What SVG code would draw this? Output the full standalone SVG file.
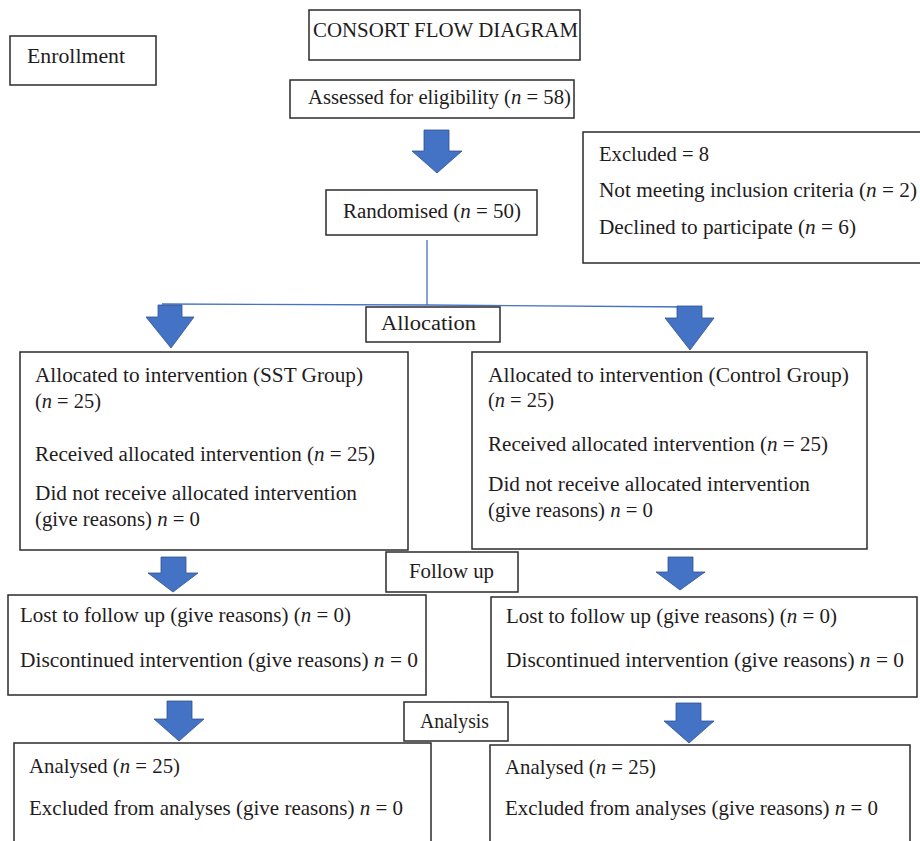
<svg xmlns="http://www.w3.org/2000/svg" width="920" height="841" viewBox="0 0 920 841">
<style>
.box{fill:#fff;stroke:#2b2b2b;stroke-width:1.5}
.t{font-family:"Liberation Serif","Times New Roman",serif;font-size:20px;fill:#1f1c1d}
.c{font-size:21px}
.i{font-style:italic}
.arr{fill:#4472C4;stroke:#2F528F;stroke-width:0.8}
.ln{stroke:#4472C4;stroke-width:1.3;fill:none}
</style>
<rect width="920" height="841" fill="#fff"/>
<g id="connectors">
<line class="ln" x1="427" y1="240" x2="427" y2="305"/>
<polyline class="ln" points="162,304 427,305 690,307"/>
<path class="arr" d="M424,130 H449 V151 H462 L437,173 L412,151 H424 Z"/>
<path class="arr" d="M158,305 H182 V317 H194 L171,348 L146,317 H158 Z"/>
<path class="arr" d="M677,306 H702 V318 H714 L690,350 L665,318 H677 Z"/>
<path class="arr" d="M161,557 H186 V573 H198 L173,592 L148,573 H161 Z"/>
<path class="arr" d="M668,557 H693 V572 H705 L680,590 L656,572 H668 Z"/>
<path class="arr" d="M167,701 H192 V719 H204 L179,741 L154,719 H167 Z"/>
<path class="arr" d="M676,703 H701 V721 H714 L689,743 L664,721 H676 Z"/>
</g>
<g id="enrollment">
<rect class="box" x="10" y="36" width="146" height="49"/>
<text class="t" x="27" y="63" textLength="98" lengthAdjust="spacingAndGlyphs">Enrollment</text>
</g>
<g id="title">
<rect class="box" x="309" y="10" width="271" height="50"/>
<text class="t" x="313" y="37" textLength="265" lengthAdjust="spacingAndGlyphs">CONSORT FLOW DIAGRAM</text>
</g>
<g id="assessed">
<rect class="box" x="290" y="80" width="284" height="38"/>
<text class="t" x="308" y="104" textLength="263" lengthAdjust="spacingAndGlyphs">Assessed for eligibility (<tspan class="i">n</tspan> = 58)</text>
</g>
<g id="randomised">
<rect class="box" x="326" y="190" width="211" height="45"/>
<text class="t" x="343" y="218" textLength="178" lengthAdjust="spacingAndGlyphs">Randomised (<tspan class="i">n</tspan> = 50)</text>
</g>
<g id="excluded">
<rect class="box" x="583" y="132" width="340" height="131"/>
<text class="t" x="599" y="161" textLength="110" lengthAdjust="spacingAndGlyphs">Excluded = 8</text>
<text class="t" x="599" y="197" textLength="318" lengthAdjust="spacingAndGlyphs">Not meeting inclusion criteria (<tspan class="i">n</tspan> = 2)</text>
<text class="t" x="599" y="234" textLength="257" lengthAdjust="spacingAndGlyphs">Declined to participate (<tspan class="i">n</tspan> = 6)</text>
</g>
<g id="allocation">
<rect class="box" x="366" y="307" width="134" height="35"/>
<text class="t" x="381" y="330" textLength="95" lengthAdjust="spacingAndGlyphs">Allocation</text>
</g>
<g id="alloc-sst">
<rect class="box" x="20" y="352" width="388" height="198"/>
<text class="t" x="35" y="382" textLength="328" lengthAdjust="spacingAndGlyphs">Allocated to intervention (SST Group)</text>
<text class="t" x="35" y="408" textLength="66" lengthAdjust="spacingAndGlyphs">(<tspan class="i">n</tspan> = 25)</text>
<text class="t" x="35" y="461" textLength="340" lengthAdjust="spacingAndGlyphs">Received allocated intervention (<tspan class="i">n</tspan> = 25)</text>
<text class="t" x="35" y="500" textLength="322" lengthAdjust="spacingAndGlyphs">Did not receive allocated intervention</text>
<text class="t" x="35" y="526" textLength="165" lengthAdjust="spacingAndGlyphs">(give reasons) <tspan class="i">n</tspan> = 0</text>
</g>
<g id="alloc-control">
<rect class="box" x="472" y="352" width="395" height="197"/>
<text class="t" x="488" y="382" textLength="361" lengthAdjust="spacingAndGlyphs">Allocated to intervention (Control Group)</text>
<text class="t" x="488" y="407" textLength="66" lengthAdjust="spacingAndGlyphs">(<tspan class="i">n</tspan> = 25)</text>
<text class="t" x="488" y="451" textLength="340" lengthAdjust="spacingAndGlyphs">Received allocated intervention (<tspan class="i">n</tspan> = 25)</text>
<text class="t" x="488" y="491" textLength="322" lengthAdjust="spacingAndGlyphs">Did not receive allocated intervention</text>
<text class="t" x="488" y="517" textLength="165" lengthAdjust="spacingAndGlyphs">(give reasons) <tspan class="i">n</tspan> = 0</text>
</g>
<g id="followup">
<rect class="box" x="386" y="552" width="132" height="40"/>
<text class="t c" x="409" y="578" textLength="85" lengthAdjust="spacingAndGlyphs">Follow up</text>
</g>
<g id="follow-sst">
<rect class="box" x="8" y="595" width="418" height="100"/>
<text class="t c" x="20" y="622" textLength="331" lengthAdjust="spacingAndGlyphs">Lost to follow up (give reasons) (<tspan class="i">n</tspan> = 0)</text>
<text class="t c" x="20" y="667" textLength="398" lengthAdjust="spacingAndGlyphs">Discontinued intervention (give reasons) <tspan class="i">n</tspan> = 0</text>
</g>
<g id="follow-control">
<rect class="box" x="491" y="597" width="426" height="100"/>
<text class="t c" x="506" y="623" textLength="331" lengthAdjust="spacingAndGlyphs">Lost to follow up (give reasons) (<tspan class="i">n</tspan> = 0)</text>
<text class="t c" x="506" y="667" textLength="398" lengthAdjust="spacingAndGlyphs">Discontinued intervention (give reasons) <tspan class="i">n</tspan> = 0</text>
</g>
<g id="analysis">
<rect class="box" x="404" y="702" width="104" height="39"/>
<text class="t c" x="420" y="728" textLength="69" lengthAdjust="spacingAndGlyphs">Analysis</text>
</g>
<g id="analysis-sst">
<rect class="box" x="14" y="743" width="417" height="110"/>
<text class="t c" x="29" y="773" textLength="151" lengthAdjust="spacingAndGlyphs">Analysed (<tspan class="i">n</tspan> = 25)</text>
<text class="t c" x="29" y="815" textLength="374" lengthAdjust="spacingAndGlyphs">Excluded from analyses (give reasons) <tspan class="i">n</tspan> = 0</text>
</g>
<g id="analysis-control">
<rect class="box" x="490" y="745" width="420" height="110"/>
<text class="t c" x="505" y="774" textLength="151" lengthAdjust="spacingAndGlyphs">Analysed (<tspan class="i">n</tspan> = 25)</text>
<text class="t c" x="505" y="815" textLength="373" lengthAdjust="spacingAndGlyphs">Excluded from analyses (give reasons) <tspan class="i">n</tspan> = 0</text>
</g>
</svg>
